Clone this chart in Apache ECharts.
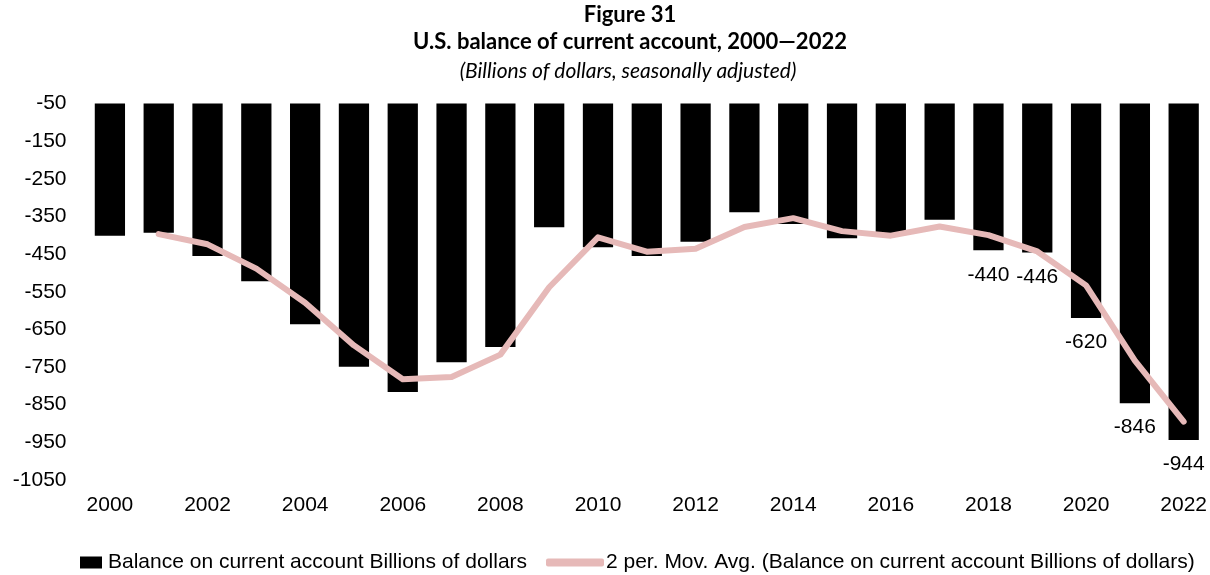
<!DOCTYPE html>
<html>
<head>
<meta charset="utf-8">
<script src="https://cdn.jsdelivr.net/npm/echarts@6/dist/echarts.min.js"></script>
<style>
  html, body { margin: 0; padding: 0; background: #fff; }
  #chart { width: 1210px; height: 575px; }
</style>
</head>
<body>
<div id="chart"></div>
<script>
// data
var years = ['2000', '2001', '2002', '2003', '2004', '2005', '2006', '2007', '2008', '2009', '2010', '2011',
  '2012', '2013', '2014', '2015', '2016', '2017', '2018', '2019', '2020', '2021', '2022'];
var balance = [-401, -393, -455, -522, -636, -749, -816, -737, -697, -379, -432, -455,
  -417, -339, -370, -408, -394, -359, -440, -446, -620, -846, -944];
var movAvg = [null, -397, -424, -488.5, -579, -692.5, -782.5, -776.5, -717, -538, -405.5, -443.5,
  -436, -378, -354.5, -389, -401, -376.5, -399.5, -443, -533, -733, -895];
var labelledYears = ['2018', '2019', '2020', '2021', '2022'];

var barName = 'Balance on current account Billions of dollars';
var lineName = '2 per. Mov. Avg. (Balance on current account Billions of dollars)';
var txtFont = "'Liberation Sans', Arial, sans-serif";

var myChart = echarts.init(document.getElementById('chart'));
myChart.setOption({
  animation: false,
  title: [
    {
      text: 'Figure 31',
      left: 630, top: 4, textAlign: 'center', padding: 0,
      textStyle: { fontFamily: 'Lato', fontWeight: 'bold', fontSize: 22, color: '#000' }
    },
    {
      text: 'U.S. balance of current account, 2000\u20142022',
      left: 630, top: 31, textAlign: 'center', padding: 0,
      textStyle: { fontFamily: 'Lato', fontWeight: 'bold', fontSize: 22, color: '#000' }
    },
    {
      text: '(Billions of dollars, seasonally adjusted)',
      left: 628, top: 61, textAlign: 'center', padding: 0,
      textStyle: { fontFamily: 'Lato', fontStyle: 'italic', fontWeight: 'normal', fontSize: 21, color: '#000' }
    }
  ],
  grid: { left: 85.5, right: 0, top: 103.5, bottom: 95, containLabel: false },
  legend: [
    {
      data: [barName],
      left: 80, top: 552, padding: 0,
      itemWidth: 22, itemHeight: 12, itemGap: 5, icon: 'rect',
      textStyle: { fontFamily: txtFont, fontSize: 21, color: '#000', padding: [0, 0, 0, 1] }
    },
    {
      data: [{ name: lineName, icon: 'roundRect' }],
      left: 546, top: 552, padding: 0,
      itemWidth: 58, itemHeight: 8,
      textStyle: { fontFamily: txtFont, fontSize: 21, color: '#000', padding: [0, 0, 0, -3] }
    }
  ],
  xAxis: {
    type: 'category',
    data: years,
    position: 'bottom',
    axisLine: { show: false, onZero: false },
    axisTick: { show: false },
    splitLine: { show: false },
    axisLabel: { interval: 1, margin: 15, color: '#000', fontFamily: txtFont, fontSize: 21 }
  },
  yAxis: {
    type: 'value',
    min: -1050, max: -50, interval: 100,
    axisLine: { show: false },
    axisTick: { show: false },
    splitLine: { show: false },
    axisLabel: {
      margin: 19, color: '#000', fontFamily: txtFont, fontSize: 21,
      formatter: function (v) { return String(v); }
    }
  },
  series: [
    {
      name: barName,
      type: 'bar',
      data: balance,
      barCategoryGap: '38%',
      clip: true,
      itemStyle: { color: '#000' },
      label: {
        show: true,
        position: 'bottom',
        distance: 14,
        color: '#000',
        fontFamily: txtFont,
        fontSize: 21,
        formatter: function (p) {
          return labelledYears.indexOf(p.name) >= 0 ? String(p.value) : '';
        }
      }
    },
    {
      name: lineName,
      type: 'line',
      data: movAvg,
      symbol: 'none',
      smooth: false,
      itemStyle: { color: '#E6B9B8' },
      lineStyle: { color: '#E6B9B8', width: 6, cap: 'round', join: 'round' }
    }
  ]
});
</script>
</body>
</html>
